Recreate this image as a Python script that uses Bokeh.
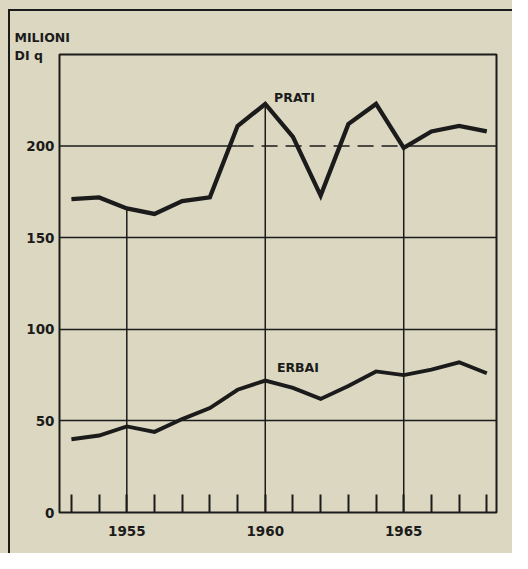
from bokeh.plotting import figure
from bokeh.layouts import column
from bokeh.models import FixedTicker, Label, Range1d
from bokeh.embed import file_html
from bokeh.resources import INLINE

years = list(range(1953, 1969))
prati = [171, 172, 166, 163, 170, 172, 211, 223, 205, 173, 212, 223, 199, 208, 211, 208]
erbai = [40, 42, 47, 44, 51, 57, 67, 72, 68, 62, 69, 77, 75, 78, 82, 76]
y_ticks = [0, 50, 100, 150, 200]
x_label_years = [1955, 1960, 1965]

BG = "#dcd7c1"
INK = "#1b1b1b"
FONT = "DejaVu Sans"

X0, X1 = 1952.57, 1968.35
p = figure(width=504, height=544, output_backend="svg", toolbar_location=None,
           x_range=Range1d(X0, X1), y_range=Range1d(0, 250),
           min_border_left=49, min_border_right=18, min_border_top=43, min_border_bottom=43)
p.styles = {"border-left": f"2px solid {INK}", "border-top": f"2px solid {INK}",
            "background-color": BG}
p.background_fill_color = BG
p.border_fill_color = BG
p.outline_line_color = INK
p.outline_line_width = 2

p.title.text = "MILIONI\nDI q"
p.title.align = "left"
p.title.offset = -45
p.title.standoff = -16
p.title.text_font = FONT
p.title.text_font_style = "bold"
p.title.text_font_size = "12.5px"
p.title.text_line_height = 1.2
p.title.text_color = INK

p.xgrid.visible = False
p.ygrid.ticker = FixedTicker(ticks=[50, 100, 150])
p.ygrid.grid_line_color = INK
p.ygrid.grid_line_width = 1.5
p.ygrid.grid_line_alpha = 1

# 200 reference line: solid, dashed where the PRATI curve rises above it
p.segment(x0=[X0, 1965], y0=[200, 200], x1=[1959, X1], y1=[200, 200], line_color=INK, line_width=1.5)
p.segment(x0=[1959], y0=[200], x1=[1965], y1=[200], line_color=INK, line_width=1.5, line_dash="16 8")

# vertical guide lines from the axis up to the PRATI curve
lookup = dict(zip(years, prati))
p.segment(x0=x_label_years, y0=[0] * 3, x1=x_label_years, y1=[lookup[y] for y in x_label_years],
          line_color=INK, line_width=1.5)

p.line(years, prati, line_color=INK, line_width=4.3, line_join="miter")
p.line(years, erbai, line_color=INK, line_width=3.9, line_join="miter")

p.xaxis.ticker = FixedTicker(ticks=years)
p.xaxis.major_label_overrides = {y: (str(y) if y in x_label_years else "") for y in years}
p.xaxis.major_tick_in = 18
p.xaxis.major_tick_out = 0
p.xaxis.major_tick_line_width = 2
p.xaxis.major_tick_line_color = INK
p.xaxis.minor_tick_line_color = None
p.xaxis.axis_line_color = None
p.xaxis.major_label_standoff = 13

p.yaxis.ticker = FixedTicker(ticks=y_ticks)
p.yaxis.major_tick_line_color = None
p.yaxis.major_tick_in = 0
p.yaxis.major_tick_out = 0
p.yaxis.minor_tick_line_color = None
p.yaxis.axis_line_color = None
p.yaxis.major_label_standoff = 5

for ax in (p.xaxis, p.yaxis):
    ax.major_label_text_font = FONT
    ax.major_label_text_font_style = "bold"
    ax.major_label_text_font_size = "13.5px"
    ax.major_label_text_color = INK

p.add_layout(Label(x=1960.32, y=226.5, text="PRATI", text_font=FONT, text_font_style="bold",
                   text_font_size="12.5px", text_color=INK, text_baseline="middle"))
p.add_layout(Label(x=1960.42, y=79, text="ERBAI", text_font=FONT, text_font_style="bold",
                   text_font_size="12.5px", text_color=INK, text_baseline="middle"))

page = column(p, styles={"background-color": BG, "padding-left": "8px", "padding-top": "9px"})

open("out.html", "w").write(file_html(page, INLINE))
